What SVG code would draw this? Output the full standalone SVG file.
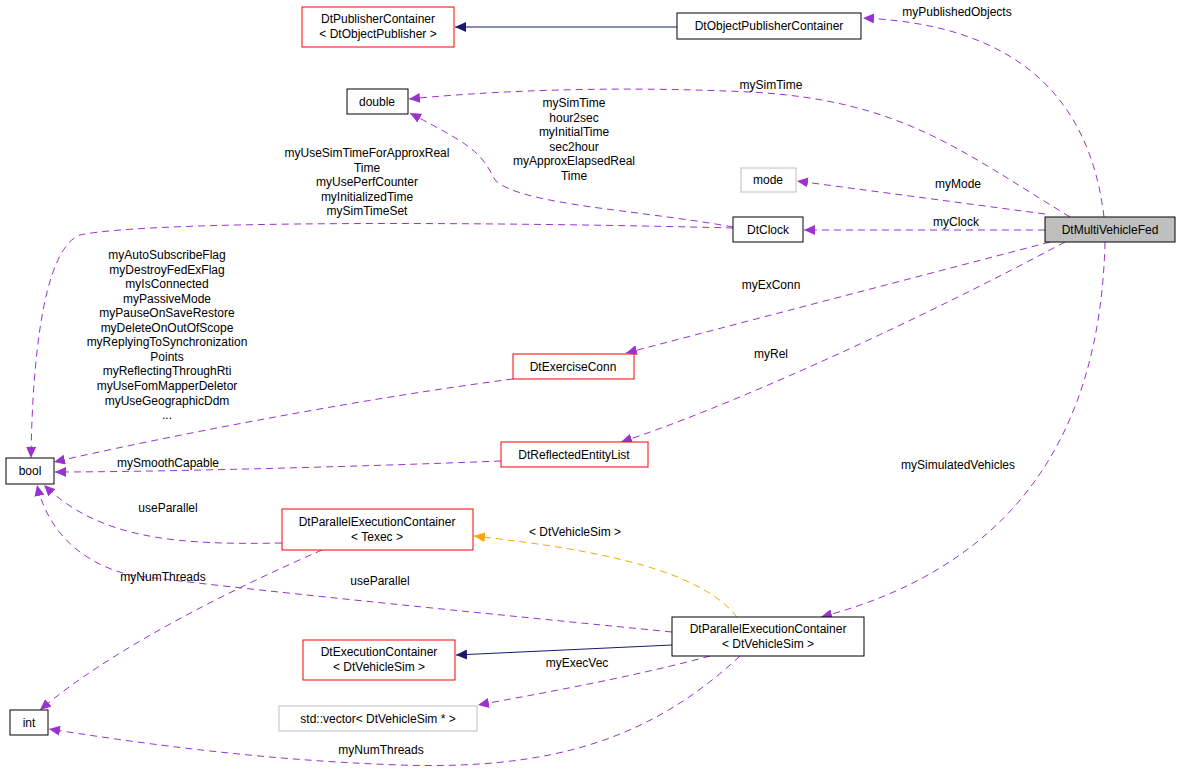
<svg xmlns="http://www.w3.org/2000/svg" width="1181" height="772" viewBox="0 0 1181 772">
<style>
text{font-family:"Liberation Sans",Arial,sans-serif;font-size:12px;fill:#000}
.n{text-anchor:middle}
.b{fill:#fff;stroke:#000;stroke-width:1}
.r{fill:#fff;stroke:#ff0000;stroke-width:1}
.g{fill:#fff;stroke:#bfbfbf;stroke-width:1}
.p{fill:none;stroke:#9a32cd;stroke-dasharray:7,5}
.o{fill:none;stroke:#ffa500;stroke-dasharray:7,5}
.s{fill:none;stroke:#191970}
</style>
<defs>
<marker id="mp" markerWidth="12" markerHeight="10" refX="11" refY="5" orient="auto" markerUnits="userSpaceOnUse"><path d="M0,0L11,5L0,10z" fill="#9a32cd"/></marker>
<marker id="mo" markerWidth="12" markerHeight="10" refX="11" refY="5" orient="auto" markerUnits="userSpaceOnUse"><path d="M0,0L11,5L0,10z" fill="#ffa500"/></marker>
<marker id="ms" markerWidth="12" markerHeight="10" refX="11" refY="5" orient="auto" markerUnits="userSpaceOnUse"><path d="M0,0L11,5L0,10z" fill="#191970"/></marker>
</defs>
<rect width="1181" height="772" fill="#fff"/>
<g id="connectors">
<path class="s" d="M677,27 L455,27" marker-end="url(#ms)"/>
<path class="s" d="M672,645 L456,655" marker-end="url(#ms)"/>
<path class="p" d="M1104,217 C1090,100 1020,25 863,18" marker-end="url(#mp)"/>
<text class="n" x="957" y="16">myPublishedObjects</text>
<path class="p" d="M1070,217 C960,150 900,100 750,92 C600,85 480,92 409,99" marker-end="url(#mp)"/>
<text class="n" x="771" y="89">mySimTime</text>
<path class="p" d="M1045,214 L797,181" marker-end="url(#mp)"/>
<text class="n" x="958" y="188">myMode</text>
<path class="p" d="M1045,230 L804,230" marker-end="url(#mp)"/>
<text class="n" x="956" y="226">myClock</text>
<path class="p" d="M1050,242 L626,353" marker-end="url(#mp)"/>
<text class="n" x="771" y="289">myExConn</text>
<path class="p" d="M1065,242 C900,330 720,410 621,442" marker-end="url(#mp)"/>
<text class="n" x="771" y="358">myRel</text>
<path class="p" d="M1105,242 C1100,450 1000,570 821,617" marker-end="url(#mp)"/>
<text class="n" x="958" y="469">mySimulatedVehicles</text>
<path class="p" d="M733,227 C640,210 520,205 495,180 C480,150 470,145 410,113" marker-end="url(#mp)"/>
<text class="n" x="574" y="107">mySimTime</text>
<text class="n" x="574" y="122">hour2sec</text>
<text class="n" x="574" y="136">myInitialTime</text>
<text class="n" x="574" y="151">sec2hour</text>
<text class="n" x="574" y="165">myApproxElapsedReal</text>
<text class="n" x="574" y="180">Time</text>
<path class="p" d="M733,228 C500,222 150,220 80,235 C40,250 32,380 31,458" marker-end="url(#mp)"/>
<text class="n" x="367" y="157">myUseSimTimeForApproxReal</text>
<text class="n" x="367" y="172">Time</text>
<text class="n" x="367" y="186">myUsePerfCounter</text>
<text class="n" x="367" y="201">myInitializedTime</text>
<text class="n" x="367" y="215">mySimTimeSet</text>
<path class="p" d="M513,379 C350,400 150,440 54,462" marker-end="url(#mp)"/>
<text class="n" x="167" y="259">myAutoSubscribeFlag</text>
<text class="n" x="167" y="274">myDestroyFedExFlag</text>
<text class="n" x="167" y="288">myIsConnected</text>
<text class="n" x="167" y="303">myPassiveMode</text>
<text class="n" x="167" y="317">myPauseOnSaveRestore</text>
<text class="n" x="167" y="332">myDeleteOnOutOfScope</text>
<text class="n" x="167" y="346">myReplyingToSynchronization</text>
<text class="n" x="167" y="361">Points</text>
<text class="n" x="167" y="375">myReflectingThroughRti</text>
<text class="n" x="167" y="390">myUseFomMapperDeletor</text>
<text class="n" x="167" y="405">myUseGeographicDdm</text>
<text class="n" x="167" y="419">...</text>
<path class="p" d="M501,461 C350,467 150,472 55,472" marker-end="url(#mp)"/>
<text class="n" x="168" y="467">mySmoothCapable</text>
<path class="p" d="M282,543 C180,545 100,540 44,485" marker-end="url(#mp)"/>
<text class="n" x="168" y="512">useParallel</text>
<path class="p" d="M672,632 C450,610 250,590 130,575 C70,560 45,520 37,485" marker-end="url(#mp)"/>
<text class="n" x="380" y="585">useParallel</text>
<path class="p" d="M322,550 C230,590 110,650 40,710" marker-end="url(#mp)"/>
<text class="n" x="163" y="581">myNumThreads</text>
<path class="p" d="M710,656 C640,675 560,690 478,705" marker-end="url(#mp)"/>
<text class="n" x="577" y="667">myExecVec</text>
<path class="p" d="M740,656 C650,740 550,770 400,765 C250,760 120,740 49,729" marker-end="url(#mp)"/>
<text class="n" x="381" y="754">myNumThreads</text>
<path class="o" d="M737,617 C700,570 600,550 474,536" marker-end="url(#mo)"/>
<text class="n" x="575" y="536">&lt; DtVehicleSim &gt;</text>
</g>
<g id="DtPublisherContainer"><rect class="r" x="302" y="7" width="152" height="40"/><text class="n" x="378" y="23">DtPublisherContainer</text><text class="n" x="378" y="38">&lt; DtObjectPublisher &gt;</text></g>
<g id="DtObjectPublisherContainer"><rect class="b" x="677" y="13" width="184" height="26"/><text class="n" x="769" y="30">DtObjectPublisherContainer</text></g>
<g id="double"><rect class="b" x="347" y="89" width="61" height="25"/><text class="n" x="377" y="106">double</text></g>
<g id="mode"><rect class="g" x="741" y="168" width="55" height="24"/><text class="n" x="768" y="184">mode</text></g>
<g id="DtClock"><rect class="b" x="733" y="217" width="70" height="25"/><text class="n" x="768" y="234">DtClock</text></g>
<g id="DtMultiVehicleFed"><rect x="1045" y="217" width="130" height="25" fill="#bfbfbf" stroke="#000"/><text class="n" x="1110" y="234">DtMultiVehicleFed</text></g>
<g id="DtExerciseConn"><rect class="r" x="513" y="354" width="121" height="25"/><text class="n" x="573" y="371">DtExerciseConn</text></g>
<g id="DtReflectedEntityList"><rect class="r" x="501" y="442" width="147" height="25"/><text class="n" x="574" y="459">DtReflectedEntityList</text></g>
<g id="bool"><rect class="b" x="6" y="458" width="48" height="26"/><text class="n" x="30" y="475">bool</text></g>
<g id="DtParallelTexec"><rect class="r" x="282" y="509" width="191" height="41"/><text class="n" x="377" y="526">DtParallelExecutionContainer</text><text class="n" x="377" y="541">&lt; Texec &gt;</text></g>
<g id="DtParallelVehicle"><rect class="b" x="672" y="617" width="192" height="39"/><text class="n" x="768" y="633">DtParallelExecutionContainer</text><text class="n" x="768" y="648">&lt; DtVehicleSim &gt;</text></g>
<g id="DtExecutionContainer"><rect class="r" x="303" y="640" width="152" height="40"/><text class="n" x="379" y="656">DtExecutionContainer</text><text class="n" x="379" y="671">&lt; DtVehicleSim &gt;</text></g>
<g id="stdvector"><rect class="g" x="279" y="706" width="198" height="25"/><text class="n" x="378" y="723">std::vector&lt; DtVehicleSim * &gt;</text></g>
<g id="int"><rect class="b" x="10" y="710" width="38" height="25"/><text class="n" x="29" y="727">int</text></g>
</svg>
